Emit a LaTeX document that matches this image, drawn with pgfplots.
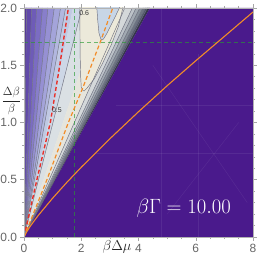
\documentclass[border=0pt]{standalone}
\usepackage[no-math]{fontspec}
\setmainfont{Liberation Sans}
\usepackage{pgfplots}
\pgfplotsset{compat=1.18}
\usetikzlibrary{calc}
\definecolor{bgp}{HTML}{4A1A8C}
\definecolor{cl}{HTML}{6E7080}
\definecolor{orng}{HTML}{F28C28}
\definecolor{redd}{HTML}{E8302A}
\definecolor{grn}{RGB}{40,155,50}
\definecolor{ba}{HTML}{553898}
\definecolor{bb}{HTML}{6149AA}
\definecolor{bc}{HTML}{6E5BB8}
\definecolor{bd}{HTML}{7B6CC3}
\definecolor{be}{HTML}{887ECB}
\definecolor{bf}{HTML}{9690D3}
\definecolor{bg}{HTML}{A4A4DA}
\definecolor{bh}{HTML}{B2B7DF}
\definecolor{bi}{HTML}{C0C9E3}
\definecolor{bj}{HTML}{CDD7E6}
\definecolor{bk}{HTML}{DAE0E4}
\definecolor{bl}{HTML}{E6E5DC}
\definecolor{bm}{HTML}{D4D8DA}
\definecolor{bn}{HTML}{BCC2C8}
\definecolor{bo}{HTML}{A2AAB2}
\definecolor{bq}{HTML}{87909A}
\definecolor{br}{HTML}{6C7482}
\definecolor{bs}{HTML}{50586A}
\definecolor{bt}{HTML}{34364A}
\definecolor{cream}{RGB}{236,233,218}
\definecolor{lblue}{RGB}{200,214,230}
\newcommand{\band}[3]{\addplot[draw=#3,fill=#3,line width=0.2pt] coordinates {(0,0) (#1,2) (#2,2)} -- cycle;}
\newcommand{\cln}[1]{\addplot[cl,line width=0.45bp] coordinates {(0,0) (#1,2)};}
\begin{document}
\begin{tikzpicture}
\begin{axis}[
 scale only axis, width=229bp, height=229bp,
 xmin=0,xmax=8,ymin=0,ymax=2,
 xtick={0,2,4,6,8}, ytick={0,0.5,1,1.5,2},
 minor x tick num=3, minor y tick num=4,
 yticklabel style={/pgf/number format/fixed,/pgf/number format/precision=1,/pgf/number format/fixed zerofill},
 /pgf/number format/assume math mode=true,
 ticklabel style={font=\fontsize{12}{12}\selectfont, text=black!60},
 tick align=outside, major tick length=3.5bp, minor tick length=2bp,
 tick style={black!35, line width=0.5bp},
 axis line style={black!30, line width=0.6bp},
 axis on top, clip=true,
]
\band{0}{0.088}{ba}
\band{0.088}{0.264}{bb}
\band{0.264}{0.44}{bc}
\band{0.44}{0.642}{bd}
\band{0.642}{0.836}{be}
\band{0.836}{1.056}{bf}
\band{1.056}{1.276}{bg}
\band{1.276}{1.452}{bh}
\band{1.452}{1.716}{bi}
\band{1.716}{2.024}{bj}
\band{2.024}{2.728}{bk}
\band{2.728}{3.52}{bl}
\band{3.52}{3.784}{bm}
\band{3.784}{3.916}{bn}
\band{3.916}{4.048}{bo}
\band{4.048}{4.158}{bq}
\band{4.158}{4.246}{br}
\band{4.246}{4.312}{bs}
\band{4.312}{4.4}{bt}
% 0.6 contour region
\addplot[draw=cl,fill=cream,line width=0.45bp] coordinates {(1.95,2.05) (1.96,1.6) (1.98,1.4) (2.0,1.31) (2.05,1.283) (2.1,1.275) (2.2,1.30) (2.45,1.38) (2.75,1.52) (3.05,1.68) (3.3,1.84) (3.5,2.05)} -- cycle;
% upper U
\addplot[draw=cl,fill=lblue,line width=0.45bp] coordinates {(2.53,2.05) (2.58,1.88) (2.62,1.78) (2.68,1.732) (2.72,1.72) (2.78,1.73) (2.9,1.78) (3.1,1.88) (3.43,2.05)} -- cycle;
\cln{0.088}\cln{0.264}\cln{0.44}\cln{0.642}\cln{0.836}\cln{1.056}\cln{1.276}\cln{1.452}\cln{2.024}
\cln{3.52}\cln{3.784}\cln{3.916}\cln{4.048}\cln{4.158}\cln{4.246}\cln{4.312}
% dark region
\addplot[draw=none,fill=bgp] coordinates {(0,0) (4.4,2) (8.1,2) (8.1,0)} -- cycle;
% faint artifact lines
\addplot[white,opacity=0.07,line width=0.5bp] coordinates {(4.8,0) (4.8,2)};
\addplot[white,opacity=0.07,line width=0.5bp] coordinates {(6.1,0) (6.1,1.6)};
\addplot[white,opacity=0.07,line width=0.5bp] coordinates {(2.5,0.73) (8,0.73)};
\addplot[white,opacity=0.07,line width=0.5bp] coordinates {(3.2,1.15) (8,1.15)};
\addplot[white,opacity=0.07,line width=0.5bp] coordinates {(5.0,0.2) (7.5,1.0)};
\addplot[white,opacity=0.07,line width=0.5bp] coordinates {(4.5,1.5) (7.8,0.3)};
% green dashed
\addplot[grn,opacity=0.65,line width=1.1bp,dash pattern=on 4bp off 3bp] coordinates {(1.75,0) (1.75,2)};
\addplot[grn,opacity=0.65,line width=1.1bp,dash pattern=on 4bp off 3bp] coordinates {(0,1.70) (8,1.70)};
% red dashed
\addplot[redd,line width=1.4bp,dash pattern=on 4bp off 2.5bp] coordinates {(0,0) (0.45,0.5) (0.92,1.0) (1.25,1.5) (1.55,2.0)};
% orange dashed
\addplot[orng,line width=1.2bp,dash pattern=on 4bp off 2.5bp] coordinates {(0,0) (0.8,0.5) (1.55,1.0) (2.05,1.3) (2.66,1.70) (3.1,2.0)};
% orange solid
\addplot[orng,line width=1.1bp] coordinates {(0,0) (0.1,0.048) (0.25,0.105) (0.5,0.189) (1,0.339) (1.5,0.478) (2,0.609) (3,0.858) (4,1.094) (5,1.321) (6,1.539) (7,1.752) (8,1.965)};
\node[font=\fontsize{7}{7}\selectfont,text=black!80,inner sep=0.5pt] at (axis cs:1.15,1.11) {0.5};
\node[font=\fontsize{7}{7}\selectfont,text=black!80,inner sep=0.5pt] at (axis cs:2.1,1.955) {0.6};
\node[text=white,font=\fontsize{22}{22}\selectfont] at (axis cs:5.58,0.25) {$\beta\Gamma = 10.00$};
\end{axis}
\node[font=\fontsize{14.5}{15}\selectfont,text=black!85] at ($(current axis.south west)+(93bp,-10bp)$) {$\beta\Delta\mu$};
\node[font=\fontsize{13}{14}\selectfont,text=black!85,inner sep=0pt] at ($(current axis.south west)+(-12.5bp,136bp)$) {$\displaystyle\frac{\Delta\beta}{\beta}$};
\pgfresetboundingbox
\path ($(current axis.south west)+(-24bp,-18bp)$) rectangle ($(current axis.north east)+(5bp,8bp)$);
\end{tikzpicture}
\end{document}
